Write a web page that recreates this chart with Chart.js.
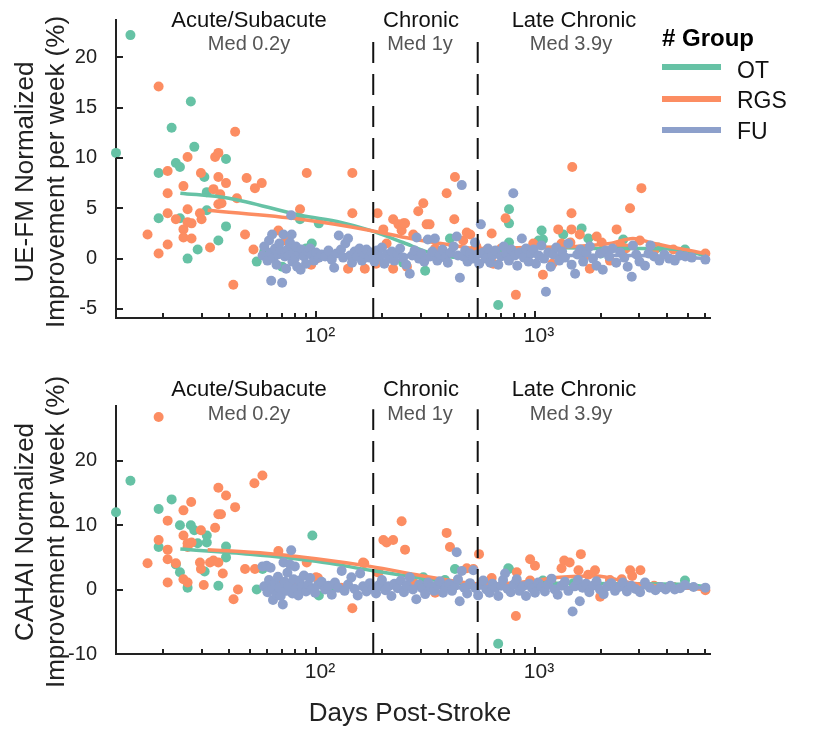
<!DOCTYPE html>
<html>
<head>
<meta charset="utf-8">
<title>Improvement per week vs days post-stroke</title>
<script src="https://cdn.jsdelivr.net/npm/chart.js@4.4.1/dist/chart.umd.min.js"></script>
<style>
  body { margin: 0; background: #fff; }
  #wrap {
    position: relative; width: 814px; height: 732px; overflow: hidden;
    font-family: 'Liberation Sans', Arial, Helvetica, sans-serif; color: #222;
  }
  canvas { position: absolute; left: 0; }
  .lbl { position: absolute; width: 240px; text-align: center; white-space: nowrap; }
  .phase { font-size: 22px; line-height: 26px; color: #111; }
  .med { font-size: 20px; line-height: 24px; color: #555; }
  .ytitle {
    position: absolute; width: 400px; height: 62px; font-size: 26px; line-height: 31px;
    text-align: center; white-space: nowrap; transform: rotate(-90deg);
  }
  .xtitle { position: absolute; width: 400px; font-size: 26px; line-height: 31px; text-align: center; }
  .legTitle { position: absolute; left: 662px; top: 24px; font-size: 24px; line-height: 28px; font-weight: bold; color: #000; }
  .legLine { position: absolute; left: 662px; width: 59px; height: 6px; }
  .legText { position: absolute; left: 737px; font-size: 23px; line-height: 28px; color: #111; }
</style>
</head>
<body>
<div id="wrap">
  <canvas id="ueChart" width="814" height="345" style="top:0"></canvas>
  <canvas id="cahaiChart" width="814" height="387" style="top:345px"></canvas>

  <!-- phase labels, top panel -->
  <div class="lbl phase" style="left:129px;top:7px">Acute/Subacute</div>
  <div class="lbl med" style="left:129px;top:31px">Med 0.2y</div>
  <div class="lbl phase" style="left:301px;top:7px">Chronic</div>
  <div class="lbl med" style="left:300px;top:31px">Med 1y</div>
  <div class="lbl phase" style="left:454px;top:7px">Late Chronic</div>
  <div class="lbl med" style="left:451px;top:31px">Med 3.9y</div>

  <!-- phase labels, bottom panel -->
  <div class="lbl phase" style="left:129px;top:376px">Acute/Subacute</div>
  <div class="lbl med" style="left:129px;top:401px">Med 0.2y</div>
  <div class="lbl phase" style="left:301px;top:376px">Chronic</div>
  <div class="lbl med" style="left:300px;top:401px">Med 1y</div>
  <div class="lbl phase" style="left:454px;top:376px">Late Chronic</div>
  <div class="lbl med" style="left:451px;top:401px">Med 3.9y</div>

  <!-- axis titles -->
  <div class="ytitle" style="left:-160px;top:141px">UE-FM Normalized<br>Improvement per week (%)</div>
  <div class="ytitle" style="left:-160px;top:501px">CAHAI Normalized<br>Improvement per week (%)</div>
  <div class="xtitle" style="left:210px;top:697px">Days Post-Stroke</div>

  <!-- legend -->
  <div class="legTitle"># Group</div>
  <div class="legLine" style="top:64px;background:#66c2a5"></div>
  <div class="legText" style="top:56px">OT</div>
  <div class="legLine" style="top:96px;background:#fc8d62"></div>
  <div class="legText" style="top:86px">RGS</div>
  <div class="legLine" style="top:127px;background:#8da0cb"></div>
  <div class="legText" style="top:117px">FU</div>
</div>

<script>
/* ---------- data ([days post-stroke, improvement %/week]) ---------- */

const xTickValues = [20, 30, 40, 50, 60, 70, 80, 90, 100, 200, 300, 400, 500, 600, 700, 800, 900,
                     1000, 2000, 3000, 4000, 5000, 6000];
const xMajorTicks = [100, 1000];
const yTicksUE = [-5, 0, 5, 10, 15, 20];
const yTicksCAHAI = [-10, 0, 10, 20];
const phaseBounds = [182.5, 547.5];   // 0.5y and 1.5y

// UE-FM panel
const ueOT = [
  [12.2, 10.5], [14.2, 22.2], [19.1, 8.5], [19.1, 4.0], [21.9, 13.0], [22.9, 9.5], [23.9, 9.1],
  [23.9, 4.0], [25.9, 0], [26.8, 15.6], [27.8, 11.1], [28.8, 0.9], [30.9, 8.1], [31.7, 6.6],
  [31.7, 4.8], [35.8, 1.8], [38.8, 9.9], [38.8, 3.2], [53.6, -0.3], [58, 0.7], [70, -0.8],
  [84.5, 3.9], [90, 1.0], [95.6, 1.5], [103, 3.5], [150, 0.5], [250, -0.4], [315, -1.2],
  [409, 2.0], [500, 0.3], [679, -4.6], [761, 4.9], [761, 3.5], [761, 1.6], [900, 0.6],
  [1040, 1.8], [1072, 2.8], [1087, 1.9], [1346, 2.4], [1633, 3.0], [1752, 2.0], [2000, 0.5],
  [2530, 1.9], [3655, 1.1], [4842, 0.9]
];
const ueRGS = [
  [17, 2.4], [19.1, 17.1], [19.1, 0.5], [21, 8.7], [21, 6.5], [21, 4.5], [21, 1.4], [22.9, 3.9],
  [24.8, 7.2], [24.8, 2.9], [24.8, 2.1], [25.9, 10.1], [25.9, 4.9], [25.9, 3.6], [27, 3.5],
  [27, 2.0], [29.5, 4.5], [29.8, 8.5], [30, 3.9], [32.8, 1.1], [34, 6.9], [34.6, 10.1],
  [35.8, 10.5], [35.8, 8.1], [35.8, 5.4], [36.5, 6.4], [37, 5.5], [38.8, 7.5], [41.9, -2.6],
  [42.7, 12.6], [43.5, 6.0], [47.4, 2.4], [48.2, 8.0], [51.8, 0.9], [52.6, 7.0], [56.5, 7.5],
  [67.3, 2.8], [73, 1.8], [84.5, 4.9], [88, 0.3], [90.7, 8.5], [95, -0.6], [100, 0], [115, 0.5],
  [140, -1.0], [146.5, 8.5], [146.5, 4.5], [160, 0.3], [167, -1.0], [188, -0.5], [191, 4.5],
  [203, 2.9], [210, 1.5], [225, 3.9], [225, -1.0], [238, 3.4], [246, 2.8], [251, 3.5],
  [255, 3.5], [260, -0.8], [278, 2.4], [293, 4.7], [309, 5.5], [320, 3.4], [330, 3.4],
  [350, 1.0], [395, 6.5], [428, 3.9], [431, 8.1], [470, 1.8], [488, 2.6], [506, 2.4],
  [523, 0.8], [540, 1.2], [600, 0.8], [634, 2.5], [645, -0.5], [700, 1.0], [734, 4.0],
  [818, -3.6], [900, 0.5], [982, 1.5], [1087, -1.6], [1200, -0.5], [1277, 2.9], [1322, 1.5],
  [1451, 1.6], [1468, 4.5], [1468, 2.9], [1480, 9.1], [1602, 2.4], [1700, 0.3], [1780, -1.0],
  [1913, 2.2], [2017, 1.6], [2200, -0.2], [2360, 2.9], [2450, 1.4], [2600, 1.0], [2717, 5.0],
  [3013, 1.8], [3062, 7.0], [3500, 0.8], [4285, 0.9], [5000, 0.5], [6000, 0.5]
];
const ueFU = [
  [57, 0.3], [58, 1.2], [60, -0.2], [61, 1.8], [62, 0.6], [62.4, -2.2], [63, 2.4], [64, 0.1],
  [65, 1.0], [66, -0.6], [67, 0.4], [68, 1.5], [69, 0.8], [70, -2.4], [71, 2.4], [72, 0.2],
  [73, -1.0], [74, 0.9], [75, 0.3], [76, 1.6], [77, 4.3], [77.4, 2.4], [78, -0.3], [79, 0.6],
  [80, 0.0], [81, 1.2], [82, -0.8], [84, 0.5], [85, -1.1], [86, 0.9], [88, 0.2], [90, -0.5],
  [92, 0.7], [94, 1.0], [96, 0.3], [98, -0.2], [100, 0.6], [103, 0.1], [106, 0.4],
  [110, 0.2], [114, 0.8], [118, -0.1], [121, -0.9], [124, 0.5], [127, 2.3], [130, 0.9],
  [133, 0.1], [136, 1.5], [140, 2.0], [143, 0.3], [146, -0.4], [150, 0.7], [154, 0.2],
  [158, 1.0], [162, -0.2], [166, 0.5], [170, 0.9], [175, 0.1], [180, 0.6], [185, -0.3],
  [190, 0.8], [195, 0.2], [200, 1.1], [205, -0.5], [210, 0.4], [216, 0.0], [222, 0.7],
  [228, -0.2], [235, 0.5], [242, 1.0], [250, 0.1], [258, -0.6], [268, -1.5], [275, 0.3],
  [282, 0.8], [288, 2.1], [295, 0.0], [303, 0.5], [312, -0.3], [324, 1.9], [332, 0.2],
  [340, 0.7], [349, 2.0], [358, -0.2], [368, 0.4], [378, 0.9], [390, 0.1], [400, -0.4],
  [412, 0.6], [425, 1.2], [439, 2.2], [445, 0.3], [454, -1.9], [463, 7.3], [470, 0.2],
  [480, 0.8], [492, -0.3], [505, 0.5], [520, 0.0], [532, 1.6], [545, 0.4], [556, -0.5],
  [566, 3.4], [580, 0.6], [595, 0.0], [610, 1.0], [625, -0.4], [640, 0.3], [660, 0.8],
  [680, -0.6], [700, 0.2], [720, 1.2], [740, 0.5], [760, -0.2], [780, 0.9], [796, 6.5],
  [810, 0.3], [830, -0.7], [850, 0.6], [871, 2.0], [890, 0.1], [910, 1.0], [935, -0.3],
  [960, 0.5], [985, 0.9], [1010, -0.5], [1040, 0.3], [1070, 1.3], [1100, 0.0], [1122, -3.3],
  [1150, 0.6], [1180, -0.8], [1210, 0.4], [1250, 1.1], [1290, -0.2], [1330, 0.7], [1370, 0.1],
  [1420, 1.5], [1470, -0.6], [1525, -1.5], [1560, 0.4], [1610, 0.9], [1660, -0.3], [1720, 0.6],
  [1780, 1.2], [1840, 0.0], [1910, -0.7], [1980, 0.5], [2040, -1.1], [2100, 0.8], [2180, 0.2],
  [2260, 1.0], [2350, -0.4], [2450, 0.6], [2560, 0.1], [2650, -0.8], [2767, -1.8], [2800, 1.3],
  [2900, 0.4], [3000, -0.3], [3180, -0.7], [3300, 0.5], [3370, 1.3], [3500, 0.2], [3700, -0.2],
  [3900, 0.4], [4100, 0.0], [4350, -0.2], [4600, 0.3], [4860, 0.2], [5200, 0.1], [6000, -0.1]
];
const ueTrendOT = [[24, 6.5], [40, 6.0], [85, 4.3], [130, 3.6], [177, 2.8], [250, 1.6], [330, 0.6],
  [450, 0.1], [600, 0.6], [800, 1.0], [1200, 1.1], [2000, 1.0], [3000, 1.0], [4500, 0.9], [6000, 0.3]];
const ueTrendRGS = [[32, 4.8], [85, 3.9], [177, 2.8], [270, 2.0], [400, 1.4], [550, 1.0], [900, 1.1],
  [1500, 1.2], [2200, 1.5], [2800, 2.0], [3500, 1.5], [6000, 0.5]];
const ueTrendFU = [[60, 0.3], [100, 0.4], [300, 0.3], [1000, 0.3], [3000, 0.3], [6000, 0.0]];

// CAHAI panel
const cahaiOT = [
  [12.2, 12.0], [14.2, 16.9], [19.1, 12.5], [19.1, 6.6], [21.9, 14.0], [22.9, 3.9], [23.9, 10.0],
  [23.9, 2.7], [25.9, 0.3], [26.8, 10.0], [27.8, 9.2], [28.8, 7.2], [31.0, 2.8], [31.7, 8.4],
  [31.7, 7.3], [35.8, 0.6], [38.8, 6.7], [38.8, 5.0], [53.6, 0], [57, 3.2], [70, 1.0],
  [96.2, 8.4], [103, -0.9], [120, 0.2], [200, 0.5], [309, 1.9], [388, 1.5], [431, 3.2],
  [500, 0.8], [679, -8.4], [755, 3.3], [761, 3.2], [1087, 1.4], [1500, 1.0], [2500, 0.6],
  [3655, 0.4], [4842, 1.4]
];
const cahaiRGS = [
  [17, 4.1], [19.1, 26.8], [19.1, 7.7], [21, 10.7], [21, 6.2], [21, 4.7], [21, 1.1], [22.9, 4.1],
  [24.8, 12.3], [24.8, 8.4], [24.8, 1.6], [25.9, 7.2], [25.9, 6.6], [25.9, 1.1], [26.9, 13.6],
  [27, 7.3], [29.5, 4.2], [29.8, 9.2], [29.8, 3.2], [30.7, 0.7], [32.8, 4.2], [34, 4.5],
  [34.6, 9.6], [35.8, 15.8], [35.8, 11.7], [35.8, 4.2], [36.8, 11.7], [37.5, 2.5], [38.8, 14.6],
  [42, -1.5], [42.7, 12.8], [44, 0], [47.4, 3.2], [52.3, 16.5], [52.6, 3.2], [56.9, 17.7],
  [67.3, 6.0], [71, 1.1], [80, 0.5], [90.7, 4.2], [100, 1.9], [102, 1.8], [130, 0.3],
  [146.5, -2.9], [164, 4.2], [166, 4.1], [191, 2.7], [193, 2.7], [203, 7.7], [210, 7.3],
  [225, 7.7], [246, 10.6], [255, 6.2], [280, 1.0], [350, -0.5], [395, 8.8], [409, 6.6],
  [488, 3.3], [523, 3.2], [555, 5.5], [600, 1.0], [634, 1.8], [818, -4.1], [826, 2.7],
  [950, 4.7], [950, 1.4], [1000, 3.7], [1200, 0.8], [1322, 3.3], [1360, 4.5], [1440, 4.2],
  [1580, 3.0], [1620, 5.5], [1750, 2.3], [1880, 3.0], [1985, -1.1], [2200, 1.5], [2490, 1.6],
  [2720, 3.0], [2780, 2.1], [3030, 3.0], [3500, 0.6], [4300, 0.4], [6000, -0.1]
];
const cahaiFU = [
  [57, 3.6], [58, 0.5], [59.5, 3.7], [60, -0.4], [61, 1.5], [62, 3.4], [63, 0.2], [63.6, -1.6],
  [65, 1.0], [66, -0.8], [67, 2.0], [68, 0.3], [69, -1.0], [70.5, -2.3], [71, 4.2], [72, 1.2],
  [73, -0.2], [74, 2.6], [75, 0.6], [76, 3.9], [77, 6.1], [78, -0.6], [79, 1.6], [80, 3.6],
  [81, 0.2], [83, -0.9], [84, 1.4], [86, 0.4], [88, 2.2], [90, -0.3], [92, 0.8], [94, 1.8],
  [96, 0.1], [99, -0.5], [102, 0.7], [106, 1.2], [110, 0.0], [114, 0.6], [118, -0.8],
  [122, 1.1], [126, 0.3], [131, 2.9], [135, -0.2], [140, 0.8], [145, 1.9], [150, 0.1],
  [155, -0.9], [159, 2.5], [164, 0.5], [170, -0.3], [176, 1.0], [182, 0.2], [188, -0.6],
  [194, 0.7], [200, 1.5], [207, -0.1], [214, 0.5], [221, -1.0], [228, 0.9], [236, 0.2],
  [244, 1.4], [252, -0.4], [260, 0.6], [268, 1.9], [277, 0.0], [287, -1.5], [296, 0.8],
  [305, 0.2], [315, -0.7], [325, 1.1], [335, 0.3], [346, -0.2], [357, 0.7], [368, 1.3],
  [380, -0.5], [392, 0.4], [405, 0.9], [418, -0.2], [431, 0.6], [439, 5.8], [445, 1.6],
  [453, -1.8], [463, 2.9], [475, 0.3], [490, -0.6], [505, 1.0], [523, 3.0], [535, 0.2],
  [550, -0.9], [565, 0.8], [580, 1.4], [600, 0.0], [620, -0.5], [640, 0.9], [660, 0.3],
  [680, -1.0], [700, 0.6], [715, 1.5], [730, 2.5], [750, 0.1], [775, -0.4], [800, 0.8],
  [825, 1.6], [850, -0.2], [880, 0.5], [910, -1.0], [940, 0.9], [970, 0.2], [1000, -0.5],
  [1035, 1.1], [1070, 0.4], [1110, -0.3], [1150, 0.8], [1190, 1.7], [1230, 0.0], [1270, -0.8],
  [1320, 0.6], [1370, 1.2], [1420, -0.2], [1485, -3.4], [1520, 0.5], [1570, 1.5], [1602, -1.8],
  [1650, 0.3], [1710, 0.9], [1770, -0.4], [1840, 0.6], [1910, 1.3], [1980, 0.0], [2060, -0.7],
  [2140, 0.5], [2230, 1.0], [2320, -0.2], [2420, 0.4], [2520, 1.1], [2630, -0.3], [2750, 0.6],
  [2880, 0.1], [3020, -0.4], [3180, 1.1], [3350, 0.3], [3550, -0.1], [3750, 0.4], [3950, 0.0],
  [4150, 0.6], [4350, 0.0], [4600, 0.2], [4842, 0.7], [5300, 0.4], [6000, 0.3]
];
const cahaiTrendOT = [[24, 6.3], [50, 5.5], [100, 4.4], [177, 3.0], [300, 1.8], [450, 1.0], [700, 0.8],
  [1200, 1.0], [2500, 0.9], [4800, 0.8], [6000, 0.5]];
const cahaiTrendRGS = [[32, 6.2], [60, 5.6], [100, 4.8], [177, 3.6], [300, 2.2], [450, 1.2], [600, 0.8],
  [900, 1.2], [1300, 1.9], [1900, 2.1], [2800, 1.0], [6000, 0.0]];
const cahaiTrendFU = [[60, 0.5], [200, 0.3], [1000, 0.3], [6000, 0.3]];

/* ---------- styling ---------- */

const colors = {
  OT: '#66c2a5',
  RGS: '#fc8d62',
  FU: '#8da0cb',
  axis: '#222',
  dash: '#111'
};
const FONT = "'Liberation Sans', Arial, Helvetica, sans-serif";

const toXY = arr => arr.map(([x, y]) => ({ x, y }));

/** Draws the short inward-pointing tick marks on both axes. */
const inwardTicks = {
  id: 'inwardTicks',
  afterDraw(chart) {
    const { ctx, chartArea, scales } = chart;
    ctx.save();
    ctx.strokeStyle = colors.axis;
    ctx.lineWidth = 2;
    ctx.beginPath();
    scales.x.ticks.forEach(t => {
      const px = Math.round(scales.x.getPixelForValue(t.value));
      const len = xMajorTicks.includes(t.value) ? 7 : 5;
      ctx.moveTo(px, chartArea.bottom);
      ctx.lineTo(px, chartArea.bottom - len);
    });
    scales.y.ticks.forEach(t => {
      const py = Math.round(scales.y.getPixelForValue(t.value));
      ctx.moveTo(chartArea.left, py);
      ctx.lineTo(chartArea.left + 7, py);
    });
    ctx.stroke();
    ctx.restore();
  }
};

// keep the plot box exactly where the layout padding puts it
function noLabelPadding(scale) {
  scale.paddingTop = 0;
  scale.paddingBottom = 0;
  scale.paddingLeft = 0;
  scale.paddingRight = 0;
}

function scatterSet(label, pts, color, order) {
  return {
    label, data: toXY(pts), order, clip: false,
    backgroundColor: color, borderWidth: 0,
    pointRadius: 5, pointHoverRadius: 5
  };
}

function trendSet(label, pts, color, order) {
  return {
    label, data: toXY(pts), order, showLine: true,
    borderColor: color, borderWidth: 3.5, pointRadius: 0,
    cubicInterpolationMode: 'monotone', fill: false
  };
}

function phaseLine(x, yLow, yHigh) {
  return {
    label: 'phase', data: [{ x, y: yLow }, { x, y: yHigh }], order: 0, showLine: true,
    borderColor: colors.dash, borderWidth: 2, borderDash: [21, 11], pointRadius: 0, clip: false
  };
}

/**
 * Build one panel.
 * @param {string} canvasId
 * @param {object} d - {ot, rgs, fu, trOT, trRGS, trFU}
 * @param {number[]} yRange - [min, max]
 * @param {number[]} yTicks
 * @param {number[]} dashRange - y extent of the phase boundary lines
 * @param {number} padTop - space above the plot area
 * @param {number} xAxisHeight - space below the plot area
 */
function makePanel(canvasId, d, yRange, yTicks, dashRange, padTop, xAxisHeight) {
  const ctx = document.getElementById(canvasId).getContext('2d');
  return new Chart(ctx, {
    type: 'scatter',
    data: {
      datasets: [
        scatterSet('FU', d.fu, colors.FU, 1),
        trendSet('FU trend', d.trFU, colors.FU, 2),
        trendSet('RGS trend', d.trRGS, colors.RGS, 3),
        trendSet('OT trend', d.trOT, colors.OT, 4),
        scatterSet('RGS', d.rgs, colors.RGS, 5),
        scatterSet('OT', d.ot, colors.OT, 6),
        ...phaseBounds.map(b => phaseLine(b, dashRange[0], dashRange[1]))
      ]
    },
    options: {
      responsive: false,
      animation: false,
      events: [],
      layout: { autoPadding: false, padding: { top: padTop, right: 104, left: 0, bottom: 0 } },
      plugins: { legend: { display: false }, tooltip: { enabled: false } },
      scales: {
        x: {
          type: 'logarithmic',
          min: 12.2,
          max: 6300,
          grid: { display: false, drawTicks: false },
          border: { display: true, color: colors.axis, width: 2 },
          afterBuildTicks: scale => { scale.ticks = xTickValues.map(v => ({ value: v })); },
          afterFit: scale => { scale.height = xAxisHeight; noLabelPadding(scale); },
          ticks: {
            autoSkip: false, maxRotation: 0, padding: 6, labelOffset: 4,
            color: colors.axis, font: { family: FONT, size: 21 },
            callback: v => (v === 100 ? '10²' : v === 1000 ? '10³' : '')
          }
        },
        y: {
          min: yRange[0],
          max: yRange[1],
          grid: { display: false, drawTicks: false },
          border: { display: true, color: colors.axis, width: 2 },
          afterBuildTicks: scale => { scale.ticks = yTicks.map(v => ({ value: v })); },
          afterFit: scale => { scale.width = 116; noLabelPadding(scale); },
          ticks: {
            padding: 19, color: colors.axis, font: { family: FONT, size: 20 }
          }
        }
      }
    },
    plugins: [inwardTicks]
  });
}

makePanel('ueChart',
  { ot: ueOT, rgs: ueRGS, fu: ueFU, trOT: ueTrendOT, trRGS: ueTrendRGS, trFU: ueTrendFU },
  [-5.9, 23.7], yTicksUE, [-6, 22], 20, 27);

makePanel('cahaiChart',
  { ot: cahaiOT, rgs: cahaiRGS, fu: cahaiFU, trOT: cahaiTrendOT, trRGS: cahaiTrendRGS, trFU: cahaiTrendFU },
  [-10, 28.5], yTicksCAHAI, [-10, 28], 61, 78);
</script>
</body>
</html>
